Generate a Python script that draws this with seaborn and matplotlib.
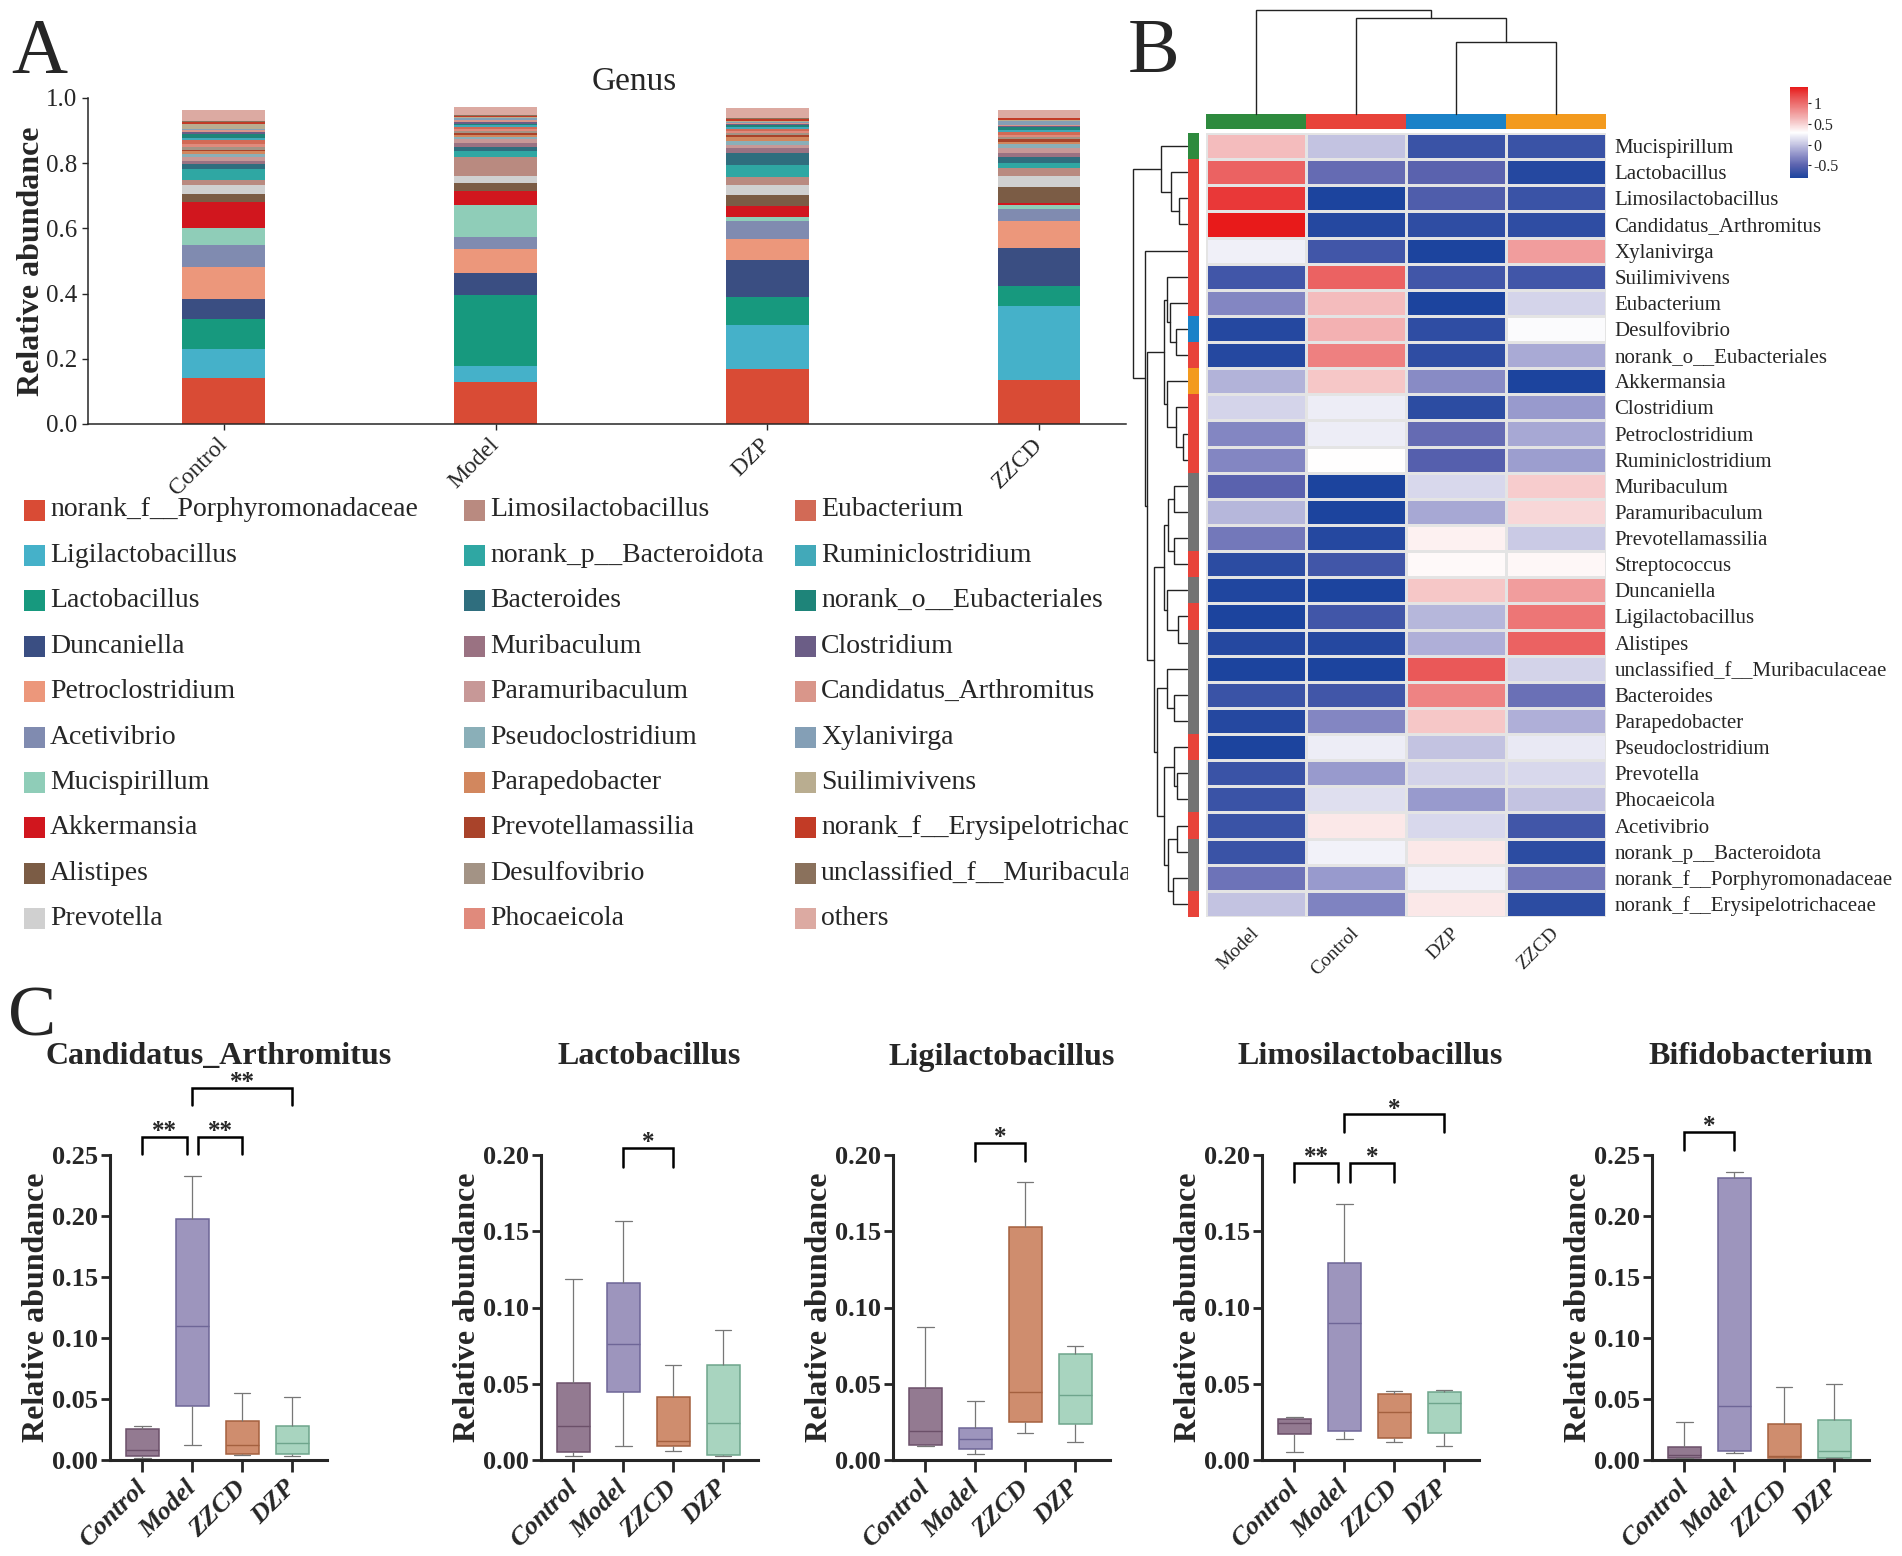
import numpy as np
import pandas as pd
import matplotlib
matplotlib.use("Agg")
import matplotlib.pyplot as plt
import seaborn as sns
from matplotlib.colors import LinearSegmentedColormap, ListedColormap
from matplotlib.patches import Rectangle

# ---------------- data: panel A (stacked relative abundance) ----------------
groups_A = ["Control", "Model", "DZP", "ZZCD"]
genera_A = [
    "norank_f__Porphyromonadaceae", "Ligilactobacillus", "Lactobacillus", "Duncaniella",
    "Petroclostridium", "Acetivibrio", "Mucispirillum", "Akkermansia", "Alistipes", "Prevotella",
    "Limosilactobacillus", "norank_p__Bacteroidota", "Bacteroides", "Muribaculum",
    "Paramuribaculum", "Pseudoclostridium", "Parapedobacter", "Prevotellamassilia",
    "Desulfovibrio", "Phocaeicola", "Eubacterium", "Ruminiclostridium",
    "norank_o__Eubacteriales", "Clostridium", "Candidatus_Arthromitus", "Xylanivirga",
    "Suilimivivens", "norank_f__Erysipelotrichaceae", "unclassified_f__Muribaculaceae", "others",
]
colors_A = [
    "#d94b35", "#45b1c9", "#17997e", "#3a4e82", "#ec977b", "#808bb0", "#8fcdb8", "#d1161e",
    "#7b5c45", "#d0d0d0", "#b98a80", "#2fa7a3", "#2f6e7e", "#9a7282", "#c79897", "#8aafb8",
    "#d2875e", "#a9432a", "#a39385", "#e08a7c", "#d26a56", "#42a9b9", "#1e8479", "#6b5d86",
    "#d9968a", "#849fb6", "#b9ad90", "#c23b26", "#8a715c", "#dcaaa2",
]
abund_control = [0.141, 0.088, 0.093, 0.060, 0.100, 0.068, 0.052, 0.080, 0.022, 0.030,
                 0.015, 0.034, 0.015, 0.010, 0.010, 0.010, 0.008, 0.004, 0.010, 0.010,
                 0.010, 0.008, 0.013, 0.006, 0.004, 0.004, 0.016, 0.005, 0.002, 0.035]
abund_model = [0.128, 0.050, 0.218, 0.066, 0.076, 0.035, 0.100, 0.043, 0.022, 0.022,
               0.058, 0.020, 0.013, 0.012, 0.010, 0.007, 0.005, 0.008, 0.005, 0.007,
               0.006, 0.006, 0.004, 0.006, 0.006, 0.005, 0.003, 0.004, 0.003, 0.025]
abund_dzp = [0.170, 0.133, 0.088, 0.113, 0.062, 0.057, 0.012, 0.034, 0.033, 0.032,
             0.025, 0.036, 0.037, 0.014, 0.011, 0.010, 0.012, 0.009, 0.005, 0.006,
             0.006, 0.005, 0.006, 0.004, 0.004, 0.003, 0.003, 0.006, 0.003, 0.030]
abund_zzcd = [0.134, 0.228, 0.062, 0.116, 0.082, 0.037, 0.012, 0.008, 0.049, 0.034,
              0.022, 0.016, 0.018, 0.012, 0.018, 0.010, 0.008, 0.007, 0.007, 0.008,
              0.008, 0.006, 0.008, 0.004, 0.004, 0.012, 0.004, 0.004, 0.002, 0.022]

# ---------------- data: panel B (heatmap) ----------------
hm_columns = ["Model", "Control", "DZP", "ZZCD"]
hm_rows = [
    "Mucispirillum", "Lactobacillus", "Limosilactobacillus", "Candidatus_Arthromitus",
    "Xylanivirga", "Suilimivivens", "Eubacterium", "Desulfovibrio", "norank_o__Eubacteriales",
    "Akkermansia", "Clostridium", "Petroclostridium", "Ruminiclostridium", "Muribaculum",
    "Paramuribaculum", "Prevotellamassilia", "Streptococcus", "Duncaniella", "Ligilactobacillus",
    "Alistipes", "unclassified_f__Muribaculaceae", "Bacteroides", "Parapedobacter",
    "Pseudoclostridium", "Prevotella", "Phocaeicola", "Acetivibrio", "norank_p__Bacteroidota",
    "norank_f__Porphyromonadaceae", "norank_f__Erysipelotrichaceae",
]
hm_model = [0.60, 1.05, 1.25, 1.38, 0.22, -0.62, -0.30, -0.75, -0.75, -0.08,
            0.08, -0.30, -0.30, -0.50, -0.06, -0.38, -0.72, -0.78, -0.80, -0.75,
            -0.80, -0.65, -0.75, -0.82, -0.65, -0.65, -0.65, -0.65, -0.40, 0.00]
hm_control = [0.00, -0.45, -0.80, -0.75, -0.62, 1.05, 0.60, 0.65, 0.90, 0.55,
              0.20, 0.20, 0.29, -0.80, -0.80, -0.75, -0.62, -0.85, -0.62, -0.75,
              -0.80, -0.62, -0.30, 0.20, -0.20, 0.13, 0.40, 0.23, -0.20, -0.32]
hm_dzp = [-0.65, -0.50, -0.55, -0.70, -0.80, -0.62, -0.82, -0.70, -0.70, -0.28,
          -0.72, -0.45, -0.52, 0.10, -0.13, 0.35, 0.32, 0.55, -0.06, -0.10,
          1.10, 0.88, 0.55, 0.00, 0.07, -0.20, 0.10, 0.40, 0.22, 0.40]
hm_zzcd = [-0.65, -0.75, -0.65, -0.70, 0.75, -0.62, 0.08, 0.27, -0.12, -0.80,
           -0.20, -0.13, -0.18, 0.52, 0.47, 0.03, 0.33, 0.75, 0.95, 1.05,
           0.07, -0.42, -0.10, 0.18, 0.10, 0.00, -0.62, -0.72, -0.38, -0.72]
row_phylum = ["Deferribacterota"] + ["Firmicutes"] * 6 + ["Desulfobacterota", "Firmicutes",
              "Verrucomicrobiota"] + ["Firmicutes"] * 3 + ["Bacteroidota"] * 3 + ["Firmicutes",
              "Bacteroidota", "Firmicutes"] + ["Bacteroidota"] * 4 + ["Firmicutes"] + \
             ["Bacteroidota"] * 2 + ["Firmicutes"] + ["Bacteroidota"] * 2 + ["Firmicutes"]
phylum_levels = ["Deferribacterota", "Firmicutes", "Desulfobacterota", "Verrucomicrobiota", "Bacteroidota"]
phylum_colors = ["#2e8a3e", "#e8433a", "#1b82c8", "#f39a1e", "#737373"]
group_colors_B = ["#2e8a3e", "#e8433a", "#1b82c8", "#f39a1e"]
# dendrogram linkages: (left, right, height); leaves 0..n-1, new nodes numbered n, n+1, ...
row_linkage = [
    (2, 3, 8.3), (1, 30, 15.7), (0, 31, 25.7), (7, 8, 10.7), (6, 33, 16.3), (5, 34, 19.7),
    (11, 12, 4.0), (10, 36, 10.7), (9, 37, 19.7), (35, 38, 22.3), (13, 14, 12.3),
    (15, 16, 12.3), (40, 41, 19.0), (18, 19, 9.0), (17, 43, 19.7), (42, 44, 22.3),
    (21, 22, 13.0), (20, 46, 19.7), (24, 25, 9.7), (23, 48, 13.0), (26, 27, 9.7),
    (28, 29, 14.0), (50, 51, 19.0), (49, 52, 23.0), (47, 53, 29.0), (45, 54, 32.3),
    (39, 55, 39.7), (4, 56, 41.7), (32, 57, 53.0),
]
col_linkage = [(2, 3, 72.0), (1, 4, 96.0), (0, 5, 104.0)]

# ---------------- data: panel C (box plots: min, q1, median, q3, max) ----------------
groups_C = ["Control", "Model", "ZZCD", "DZP"]
genes_C = ["Candidatus_Arthromitus", "Lactobacillus", "Ligilactobacillus",
           "Limosilactobacillus", "Bifidobacterium"]
box_candidatus = {"Control": [0.002, 0.003, 0.0078, 0.0256, 0.028],
                  "Model": [0.0125, 0.0444, 0.110, 0.1975, 0.233],
                  "ZZCD": [0.004, 0.0047, 0.012, 0.032, 0.055],
                  "DZP": [0.003, 0.0053, 0.014, 0.028, 0.052]}
box_lactobacillus = {"Control": [0.0025, 0.005, 0.022, 0.0505, 0.119],
                     "Model": [0.009, 0.0445, 0.076, 0.116, 0.157],
                     "ZZCD": [0.006, 0.009, 0.0125, 0.041, 0.0625],
                     "DZP": [0.0025, 0.003, 0.024, 0.062, 0.085]}
box_ligilactobacillus = {"Control": [0.0095, 0.010, 0.019, 0.047, 0.0875],
                         "Model": [0.004, 0.007, 0.014, 0.021, 0.039],
                         "ZZCD": [0.018, 0.025, 0.0445, 0.1525, 0.1825],
                         "DZP": [0.0118, 0.0233, 0.0425, 0.0695, 0.075]}
box_limosilactobacillus = {"Control": [0.0055, 0.017, 0.0243, 0.0268, 0.0283],
                           "Model": [0.0138, 0.0188, 0.090, 0.1295, 0.168],
                           "ZZCD": [0.012, 0.0145, 0.0313, 0.043, 0.0455],
                           "DZP": [0.009, 0.0175, 0.0375, 0.0445, 0.046]}
box_bifidobacterium = {"Control": [0.002, 0.002, 0.0037, 0.011, 0.031],
                       "Model": [0.0056, 0.0072, 0.044, 0.231, 0.236],
                       "ZZCD": [0.001, 0.0015, 0.003, 0.0297, 0.060],
                       "DZP": [0.0015, 0.002, 0.007, 0.033, 0.062]}
box_data = [box_candidatus, box_lactobacillus, box_ligilactobacillus,
            box_limosilactobacillus, box_bifidobacterium]
ymax_C = [0.25, 0.20, 0.20, 0.20, 0.25]
# significance brackets: (x_start, x_end, label, y_top, y_leg_bottom)
brackets_C = [
    [(0, 0.9, "**", 0.265, 0.251), (1.12, 2, "**", 0.265, 0.251), (1, 3, "**", 0.305, 0.291)],
    [(1, 2, "*", 0.2046, 0.192)],
    [(1, 2, "*", 0.208, 0.196)],
    [(0, 0.88, "**", 0.1948, 0.182), (1.12, 2, "*", 0.1948, 0.182), (1, 3, "*", 0.2268, 0.215)],
    [(0, 1, "*", 0.2688, 0.254)],
]
fill_C = ["#937a91", "#9d95bd", "#cf8d6e", "#a8d4bf"]
edge_C = ["#6b5069", "#6e6697", "#a4603f", "#6ea58c"]

# ---------------- figure ----------------
W, H = 1902, 1556
sns.set_style("ticks")
plt.rcParams["font.family"] = ["Liberation Serif", "DejaVu Serif"]
plt.rcParams["axes.unicode_minus"] = False
fig = plt.figure(figsize=(W / 100, H / 100), dpi=100, facecolor="white")


def px_axes(l, t, r, b):
    return fig.add_axes([l / W, 1 - b / H, (r - l) / W, (b - t) / H])


# ======== Panel A ========
axA = px_axes(88, 98, 1126, 424)
mat = np.array([abund_control, abund_model, abund_dzp, abund_zzcd])
xpos = np.arange(len(groups_A))
bottom = np.zeros(len(groups_A))
for j, g in enumerate(genera_A):
    axA.bar(xpos, mat[:, j], bottom=bottom, width=0.305, color=colors_A[j], linewidth=0)
    bottom += mat[:, j]
axA.set_xlim(-0.5, 3.32)
axA.set_ylim(0, 1.0)
axA.set_yticks(np.arange(0, 1.01, 0.2))
axA.set_yticklabels([f"{v:.1f}" for v in np.arange(0, 1.01, 0.2)], fontsize=18)
axA.set_xticks(xpos)
axA.set_xticklabels(groups_A, fontsize=17)
plt.setp(axA.get_xticklabels(), rotation=45, ha="right", va="center", rotation_mode="anchor")
axA.tick_params(axis="x", length=4.5, width=1, pad=8)
axA.tick_params(axis="y", length=4.5, width=1, pad=3)
for s in ["top", "right"]:
    axA.spines[s].set_visible(False)
for s in ["left", "bottom"]:
    axA.spines[s].set_linewidth(1.1)
axA.set_ylabel("Relative abundance", fontsize=23, fontweight="bold")
axA.yaxis.set_label_coords(-42 / 1038, 0.5)
fig.text(634 / W, 1 - 82 / H, "Genus", fontsize=24, ha="center", va="center")

# legend
axL = px_axes(0, 480, 1128, 950)
axL.set_xlim(0, 1128)
axL.set_ylim(950, 480)
axL.axis("off")
col_x = [24, 464, 795]
for k, (name, c) in enumerate(zip(genera_A, colors_A)):
    col, row = divmod(k, 10)
    yc = 510 + row * 45.4
    axL.add_patch(Rectangle((col_x[col], yc - 10.5), 21, 21, color=c, lw=0))
    axL.text(col_x[col] + 26, yc, name, fontsize=20, va="center", ha="left", clip_on=True)

# ======== Panel B ========
cmap_nodes = [(-0.8, "#1c449e"), (-0.5, "#5a62ae"), (-0.25, "#8e90c8"), (0.0, "#c4c4e2"),
              (0.29, "#ffffff"), (0.6, "#f4bcbd"), (0.9, "#ee8080"), (1.15, "#e95050"),
              (1.38, "#e81a1a")]
vmin, vmax = -0.8, 1.38
cmap = LinearSegmentedColormap.from_list(
    "bwr_custom", [((v - vmin) / (vmax - vmin), c) for v, c in cmap_nodes])

hm_df = pd.DataFrame({"Model": hm_model, "Control": hm_control, "DZP": hm_dzp, "ZZCD": hm_zzcd},
                     index=hm_rows)[hm_columns]
axH = px_axes(1206, 133, 1606, 917)
cax = px_axes(1790, 87, 1808, 178)
sns.heatmap(hm_df, ax=axH, cmap=cmap, vmin=vmin, vmax=vmax, cbar_ax=cax,
            linewidths=1.0, linecolor="#e4e4e4", xticklabels=True, yticklabels=True)
axH.yaxis.tick_right()
axH.set_yticklabels(hm_rows, rotation=0, fontsize=15)
axH.tick_params(axis="y", length=0, pad=6)
axH.set_xticklabels(hm_columns, fontsize=14)
plt.setp(axH.get_xticklabels(), rotation=45, ha="right", va="center", rotation_mode="anchor")
axH.tick_params(axis="x", length=0, pad=10)
axH.set_xlabel("")
axH.set_ylabel("")

cax.set_yticks([-0.5, 0, 0.5, 1])
cax.set_yticklabels(["-0.5", "0", "0.5", "1"], fontsize=11.5)
cax.tick_params(axis="y", length=2.5, width=0.8, pad=1.5)
for s in cax.spines.values():
    s.set_visible(False)

# row annotation
axRA = px_axes(1188, 133, 1199, 917)
codes = np.array([[phylum_levels.index(p)] for p in row_phylum])
sns.heatmap(codes, ax=axRA, cmap=ListedColormap(phylum_colors), vmin=-0.5,
            vmax=len(phylum_levels) - 0.5, cbar=False, xticklabels=False, yticklabels=False)
# column annotation
axCA = px_axes(1206, 114, 1606, 129)
sns.heatmap(np.arange(4).reshape(1, 4), ax=axCA, cmap=ListedColormap(group_colors_B),
            vmin=-0.5, vmax=3.5, cbar=False, xticklabels=False, yticklabels=False)


def draw_dendro(ax, linkage, n, orient):
    pos = {i: i + 0.5 for i in range(n)}
    hgt = {i: 0.0 for i in range(n)}
    for k, (a, b, h) in enumerate(linkage):
        pa, pb = pos[a], pos[b]
        if orient == "left":
            ax.plot([hgt[a], h, h, hgt[b]], [pa, pa, pb, pb], color="#222222", lw=1.0,
                    clip_on=False, solid_joinstyle="miter")
        else:
            ax.plot([pa, pa, pb, pb], [hgt[a], h, h, hgt[b]], color="#222222", lw=1.0,
                    clip_on=False, solid_joinstyle="miter")
        pos[n + k] = (pa + pb) / 2
        hgt[n + k] = h


axRD = px_axes(1133, 133, 1187, 917)
draw_dendro(axRD, row_linkage, len(hm_rows), "left")
axRD.set_xlim(53, 0)
axRD.set_ylim(len(hm_rows), 0)
axRD.axis("off")

axCD = px_axes(1206, 10, 1606, 114)
draw_dendro(axCD, col_linkage, len(hm_columns), "top")
axCD.set_xlim(0, len(hm_columns))
axCD.set_ylim(0, 104)
axCD.axis("off")

# ======== Panel C ========
c_lefts = [110, 541, 893, 1262, 1652]
for i, gene in enumerate(genes_C):
    ax = px_axes(c_lefts[i], 1155, c_lefts[i] + 217, 1460)
    df = pd.DataFrame([(g, v) for g in groups_C for v in box_data[i][g]],
                      columns=["group", "value"])
    sns.boxplot(data=df, x="group", y="value", hue="group", order=groups_C,
                hue_order=groups_C, palette=fill_C, saturation=1, whis=(0, 100),
                width=0.66, linewidth=1.1, showfliers=False, legend=False, ax=ax,
                whiskerprops=dict(color="#777777", lw=0.9),
                capprops=dict(color="#777777", lw=0.9))
    for p in ax.patches:
        verts = p.get_path().vertices
        idx = int(round(verts[:, 0].mean()))
        if 0 <= idx < 4:
            p.set_edgecolor(edge_C[idx])
            p.set_linewidth(1.1)
    for ln in ax.lines:
        xd, yd = np.asarray(ln.get_xdata(), float), np.asarray(ln.get_ydata(), float)
        if len(xd) == 2 and yd[0] == yd[1] and abs(xd[1] - xd[0]) > 0.5:
            ln.set_color(edge_C[int(round(xd.mean()))])
            ln.set_linewidth(1.0)
    ax.set_xlim(-0.65, 3.7)
    ax.set_ylim(0, ymax_C[i])
    ticks = np.round(np.arange(0, ymax_C[i] + 1e-9, 0.05), 2)
    ax.set_yticks(ticks)
    ax.set_yticklabels([f"{t:.2f}" for t in ticks], fontsize=19, fontweight="bold")
    ax.set_xticks(range(4))
    ax.set_xticklabels(groups_C, fontsize=19, fontweight="bold", style="italic")
    plt.setp(ax.get_xticklabels(), rotation=45, ha="right", va="center", rotation_mode="anchor")
    ax.tick_params(axis="x", length=8.6, width=2, pad=9)
    ax.tick_params(axis="y", length=6.5, width=2, pad=2)
    for s in ["top", "right"]:
        ax.spines[s].set_visible(False)
    for s in ["left", "bottom"]:
        ax.spines[s].set_linewidth(2.2)
    ax.set_xlabel("")
    ax.set_ylabel("Relative abundance", fontsize=23, fontweight="bold")
    ax.yaxis.set_label_coords(-59 / 217, 0.5)
    ax.text(0.5, (1460 - 1057) / 305, gene, transform=ax.transAxes, ha="center",
            va="center", fontsize=23, fontweight="bold")
    for (x0, x1, lab, ytop, yleg) in brackets_C[i]:
        ax.plot([x0, x0, x1, x1], [yleg, ytop, ytop, yleg], color="black", lw=1.8,
                clip_on=False, solid_joinstyle="miter")
        ax.annotate(lab, xy=((x0 + x1) / 2, ytop), xytext=(0, -1), textcoords="offset points",
                    ha="center", va="baseline", fontsize=18, fontweight="bold",
                    annotation_clip=False)

# panel letters
fig.text(11 / W, 1 - 72 / H, "A", fontsize=56, ha="left", va="baseline")
fig.text(1128 / W, 1 - 72 / H, "B", fontsize=56, ha="left", va="baseline")
fig.text(8 / W, 1 - 1036 / H, "C", fontsize=52, ha="left", va="baseline")

fig.savefig("out.png", dpi=100, facecolor="white")
